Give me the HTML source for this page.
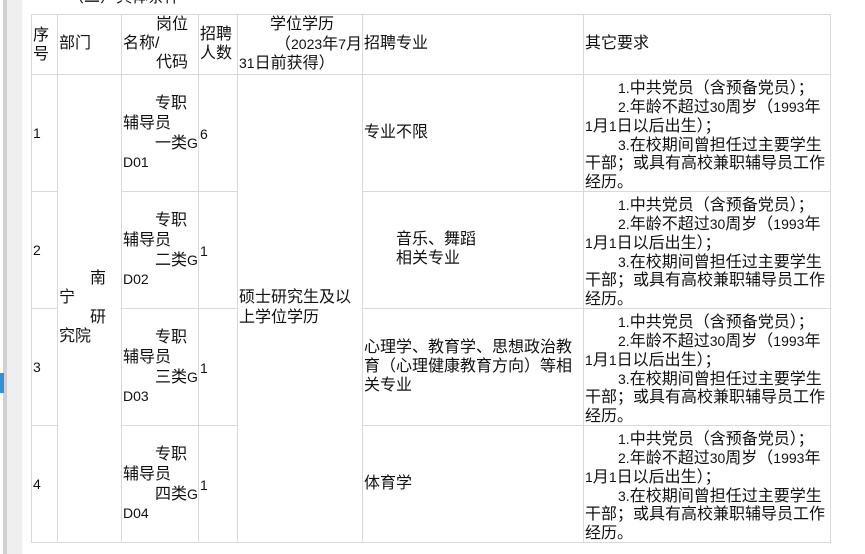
<!DOCTYPE html>
<html><head><meta charset="utf-8"><style>
body{margin:0;width:865px;height:554px;background:#fff;position:relative;overflow:hidden;font-family:"Liberation Sans","Noto Sans CJK SC",sans-serif;font-size:16px;color:#111}
.l{position:absolute;background:#d9d9d9}
.t{position:absolute;white-space:nowrap;line-height:20px;height:20px}
i{font-style:normal;font-size:14px}
</style></head><body>
<div style="position:absolute;left:3px;top:0;width:4px;height:554px;background:#d0d0d0"></div>
<div style="position:absolute;left:7px;top:0;width:15px;height:554px;background:#efefef"></div>
<div style="position:absolute;left:0;top:373px;width:4px;height:20px;background:#3b8fd0"></div>
<div class="t" style="left:68px;top:-12px">（二）具体条件</div>
<div class="l" style="left:31px;top:14px;width:800px;height:1px"></div>
<div class="l" style="left:31px;top:74px;width:800px;height:1px"></div>
<div class="l" style="left:31px;top:191px;width:26px;height:1px"></div>
<div class="l" style="left:121px;top:191px;width:116px;height:1px"></div>
<div class="l" style="left:362px;top:191px;width:469px;height:1px"></div>
<div class="l" style="left:31px;top:308px;width:26px;height:1px"></div>
<div class="l" style="left:121px;top:308px;width:116px;height:1px"></div>
<div class="l" style="left:362px;top:308px;width:469px;height:1px"></div>
<div class="l" style="left:31px;top:425px;width:26px;height:1px"></div>
<div class="l" style="left:121px;top:425px;width:116px;height:1px"></div>
<div class="l" style="left:362px;top:425px;width:469px;height:1px"></div>
<div class="l" style="left:31px;top:542px;width:800px;height:1px"></div>
<div class="l" style="left:31px;top:14px;width:1px;height:529px"></div>
<div class="l" style="left:57px;top:14px;width:1px;height:529px"></div>
<div class="l" style="left:121px;top:14px;width:1px;height:529px"></div>
<div class="l" style="left:198px;top:14px;width:1px;height:529px"></div>
<div class="l" style="left:237px;top:14px;width:1px;height:529px"></div>
<div class="l" style="left:362px;top:14px;width:1px;height:529px"></div>
<div class="l" style="left:583px;top:14px;width:1px;height:529px"></div>
<div class="l" style="left:830px;top:14px;width:1px;height:529px"></div>
<div class="t" style="left:33px;top:26px">序</div>
<div class="t" style="left:33px;top:45px">号</div>
<div class="t" style="left:59px;top:34px">部门</div>
<div class="t" style="left:156px;top:15px">岗位</div>
<div class="t" style="left:123px;top:34px">名称/</div>
<div class="t" style="left:156px;top:53px">代码</div>
<div class="t" style="left:200px;top:25px">招聘</div>
<div class="t" style="left:200px;top:44px">人数</div>
<div class="t" style="left:270px;top:15px">学位学历</div>
<div class="t" style="left:275px;top:34px">（<i>2023</i>年<i>7</i>月</div>
<div class="t" style="left:239px;top:53px"><i>31</i>日前获得）</div>
<div class="t" style="left:364px;top:34px">招聘专业</div>
<div class="t" style="left:585px;top:34px">其它要求</div>
<div class="t" style="left:90px;top:269px">南</div>
<div class="t" style="left:59px;top:288px">宁</div>
<div class="t" style="left:90px;top:308px">研</div>
<div class="t" style="left:59px;top:327px">究院</div>
<div class="t" style="left:239px;top:288px">硕士研究生及以</div>
<div class="t" style="left:239px;top:308px">上学位学历</div>
<div class="t" style="left:33px;top:123px"><i>1</i></div>
<div class="t" style="left:33px;top:240px"><i>2</i></div>
<div class="t" style="left:33px;top:357px"><i>3</i></div>
<div class="t" style="left:33px;top:474px"><i>4</i></div>
<div class="t" style="left:155px;top:94px">专职</div><div class="t" style="left:123px;top:114px">辅导员</div><div class="t" style="left:155px;top:133px">一类<i>G</i></div><div class="t" style="left:123px;top:152px"><i>D01</i></div>
<div class="t" style="left:155px;top:211px">专职</div><div class="t" style="left:123px;top:231px">辅导员</div><div class="t" style="left:155px;top:250px">二类<i>G</i></div><div class="t" style="left:123px;top:269px"><i>D02</i></div>
<div class="t" style="left:155px;top:328px">专职</div><div class="t" style="left:123px;top:348px">辅导员</div><div class="t" style="left:155px;top:367px">三类<i>G</i></div><div class="t" style="left:123px;top:386px"><i>D03</i></div>
<div class="t" style="left:155px;top:445px">专职</div><div class="t" style="left:123px;top:465px">辅导员</div><div class="t" style="left:155px;top:484px">四类<i>G</i></div><div class="t" style="left:123px;top:503px"><i>D04</i></div>
<div class="t" style="left:200px;top:124px"><i>6</i></div>
<div class="t" style="left:200px;top:241px"><i>1</i></div>
<div class="t" style="left:200px;top:358px"><i>1</i></div>
<div class="t" style="left:200px;top:475px"><i>1</i></div>
<div class="t" style="left:364px;top:123px">专业不限</div>
<div class="t" style="left:396px;top:230px">音乐、舞蹈</div>
<div class="t" style="left:396px;top:249px">相关专业</div>
<div class="t" style="left:364px;top:338px">心理学、教育学、思想政治教</div>
<div class="t" style="left:364px;top:357px">育（心理健康教育方向）等相</div>
<div class="t" style="left:364px;top:376px">关专业</div>
<div class="t" style="left:364px;top:474px">体育学</div>
<div class="t" style="left:618px;top:78px"><i>1.</i>中共党员（含预备党员）；</div>
<div class="t" style="left:618px;top:97px"><i>2.</i>年龄不超过<i>30</i>周岁（<i>1993</i>年</div>
<div class="t" style="left:585px;top:116px"><i>1</i>月<i>1</i>日以后出生）；</div>
<div class="t" style="left:618px;top:135px"><i>3.</i>在校期间曾担任过主要学生</div>
<div class="t" style="left:585px;top:154px">干部；或具有高校兼职辅导员工作</div>
<div class="t" style="left:585px;top:173px">经历。</div>
<div class="t" style="left:618px;top:195px"><i>1.</i>中共党员（含预备党员）；</div>
<div class="t" style="left:618px;top:214px"><i>2.</i>年龄不超过<i>30</i>周岁（<i>1993</i>年</div>
<div class="t" style="left:585px;top:233px"><i>1</i>月<i>1</i>日以后出生）；</div>
<div class="t" style="left:618px;top:252px"><i>3.</i>在校期间曾担任过主要学生</div>
<div class="t" style="left:585px;top:271px">干部；或具有高校兼职辅导员工作</div>
<div class="t" style="left:585px;top:290px">经历。</div>
<div class="t" style="left:618px;top:312px"><i>1.</i>中共党员（含预备党员）；</div>
<div class="t" style="left:618px;top:331px"><i>2.</i>年龄不超过<i>30</i>周岁（<i>1993</i>年</div>
<div class="t" style="left:585px;top:350px"><i>1</i>月<i>1</i>日以后出生）；</div>
<div class="t" style="left:618px;top:369px"><i>3.</i>在校期间曾担任过主要学生</div>
<div class="t" style="left:585px;top:388px">干部；或具有高校兼职辅导员工作</div>
<div class="t" style="left:585px;top:407px">经历。</div>
<div class="t" style="left:618px;top:429px"><i>1.</i>中共党员（含预备党员）；</div>
<div class="t" style="left:618px;top:448px"><i>2.</i>年龄不超过<i>30</i>周岁（<i>1993</i>年</div>
<div class="t" style="left:585px;top:467px"><i>1</i>月<i>1</i>日以后出生）；</div>
<div class="t" style="left:618px;top:486px"><i>3.</i>在校期间曾担任过主要学生</div>
<div class="t" style="left:585px;top:505px">干部；或具有高校兼职辅导员工作</div>
<div class="t" style="left:585px;top:524px">经历。</div>
</body></html>
